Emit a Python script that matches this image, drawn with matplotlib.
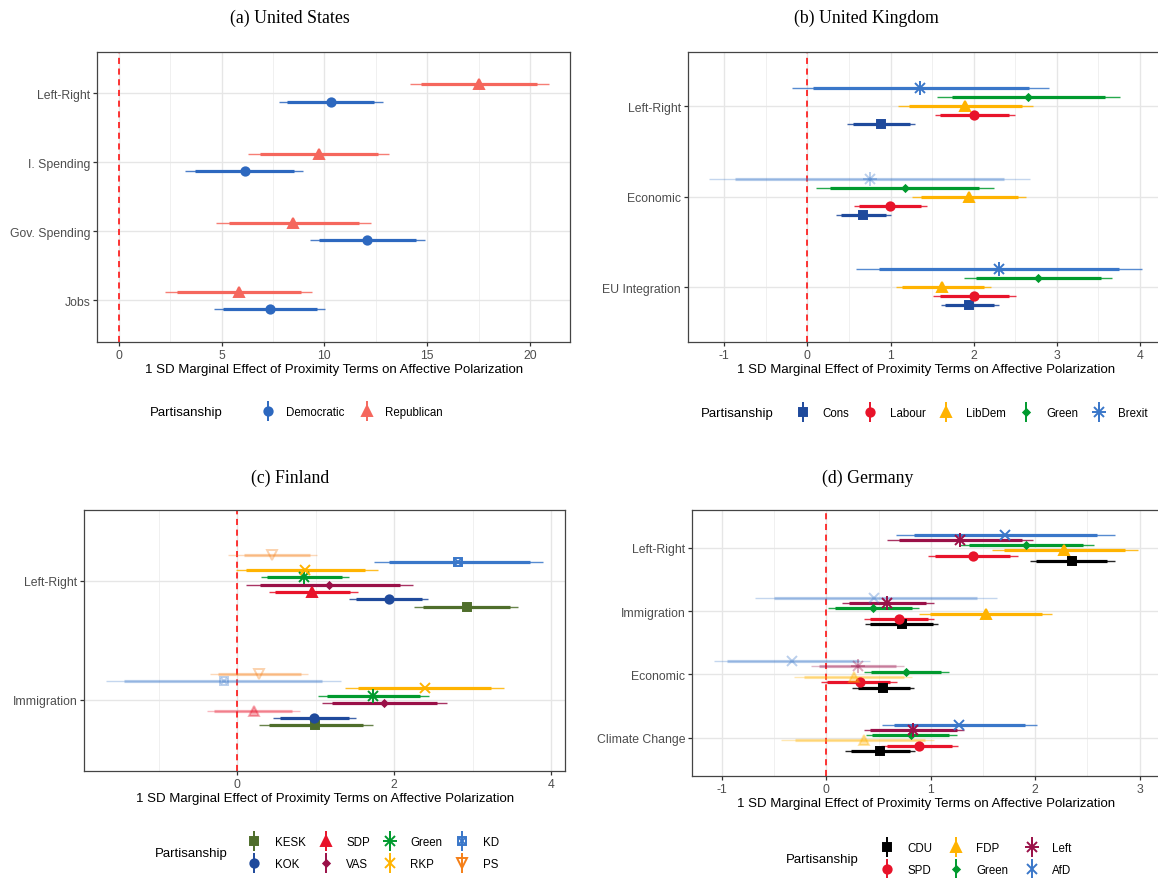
import matplotlib
matplotlib.use("Agg")
import matplotlib.pyplot as plt
from matplotlib.lines import Line2D
from matplotlib.legend_handler import HandlerTuple
from matplotlib.ticker import MultipleLocator

plt.rcParams['font.family'] = ['Liberation Sans', 'DejaVu Sans']
plt.rcParams['axes.unicode_minus'] = False

W, H = 1158, 879

# ---- (a) United States ----
us_cats = ["Left-Right", "I. Spending", "Gov. Spending", "Jobs"]
us_parties = ["Democratic", "Republican"]
us_est = [[10.31, 6.12, 12.07, 7.37], [17.52, 9.72, 8.48, 5.85]]
us_lo95 = [[7.80, 3.23, 9.29, 4.65], [14.17, 6.28, 4.74, 2.26]]
us_hi95 = [[12.84, 8.97, 14.91, 10.04], [20.90, 13.15, 12.25, 9.42]]
us_lo90 = [[8.16, 3.71, 9.72, 5.08], [14.71, 6.87, 5.35, 2.83]]
us_hi90 = [[12.43, 8.52, 14.44, 9.63], [20.32, 12.59, 11.66, 8.84]]
us_sig = [[True] * 4, [True] * 4]

# ---- (b) United Kingdom ----
uk_cats = ["Left-Right", "Economic", "EU Integration"]
uk_parties = ["Cons", "Labour", "LibDem", "Green", "Brexit"]
uk_est = [[0.88, 0.67, 1.95], [2.01, 0.99, 2.01], [1.90, 1.94, 1.62],
          [2.66, 1.17, 2.78], [1.36, 0.75, 2.30]]
uk_lo95 = [[0.48, 0.34, 1.61], [1.53, 0.56, 1.51], [1.09, 1.26, 1.06],
           [1.56, 0.10, 1.89], [-0.18, -1.18, 0.59]]
uk_hi95 = [[1.30, 1.01, 2.31], [2.50, 1.44, 2.51], [2.71, 2.63, 2.21],
           [3.76, 2.24, 3.67], [2.91, 2.68, 4.03]]
uk_lo90 = [[0.55, 0.40, 1.66], [1.60, 0.62, 1.60], [1.22, 1.37, 1.14],
           [1.74, 0.27, 2.03], [0.07, -0.87, 0.86]]
uk_hi90 = [[1.23, 0.95, 2.25], [2.42, 1.37, 2.43], [2.58, 2.53, 2.12],
           [3.58, 2.06, 3.53], [2.67, 2.37, 3.75]]
uk_sig = [[True] * 3, [True] * 3, [True] * 3, [True] * 3, [True, False, True]]

# ---- (c) Finland ----
fi_cats = ["Left-Right", "Immigration"]
fi_parties = ["KESK", "KOK", "SDP", "VAS", "Green", "RKP", "KD", "PS"]
fi_est = [[2.93, 0.99], [1.93, 0.98], [0.96, 0.21], [1.17, 1.87],
          [0.85, 1.73], [0.87, 2.40], [2.82, -0.17], [0.45, 0.28]]
fi_lo95 = [[2.26, 0.28], [1.43, 0.46], [0.40, -0.38], [0.11, 1.08],
           [0.30, 1.03], [-0.02, 1.38], [1.75, -1.67], [-0.12, -0.34]]
fi_hi95 = [[3.58, 1.73], [2.43, 1.52], [1.54, 0.80], [2.24, 2.68],
           [1.43, 2.44], [1.79, 3.40], [3.90, 1.32], [1.02, 0.90]]
fi_lo90 = [[2.37, 0.40], [1.51, 0.54], [0.48, -0.29], [0.29, 1.21],
           [0.38, 1.15], [0.11, 1.54], [1.93, -1.44], [0.09, -0.24]]
fi_hi90 = [[3.48, 1.61], [2.35, 1.43], [1.44, 0.70], [2.07, 2.55],
           [1.34, 2.33], [1.63, 3.24], [3.73, 1.08], [0.93, 0.81]]
fi_sig = [[True, True], [True, True], [True, False], [True, True],
          [True, True], [True, True], [True, False], [False, False]]

# ---- (d) Germany ----
de_cats = ["Left-Right", "Immigration", "Economic", "Climate Change"]
de_parties = ["CDU", "SPD", "FDP", "Green", "Left", "AfD"]
de_est = [[2.35, 0.72, 0.54, 0.51], [1.40, 0.70, 0.32, 0.89],
          [2.28, 1.53, 0.26, 0.36], [1.91, 0.45, 0.76, 0.81],
          [1.28, 0.58, 0.30, 0.83], [1.71, 0.46, -0.33, 1.27]]
de_lo95 = [[1.95, 0.37, 0.25, 0.18], [0.97, 0.36, -0.05, 0.52],
           [1.59, 0.89, -0.31, -0.43], [1.28, 0.02, 0.36, 0.38],
           [0.58, 0.15, -0.15, 0.36], [0.67, -0.68, -1.08, 0.53]]
de_hi95 = [[2.76, 1.07, 0.84, 0.85], [1.83, 1.03, 0.68, 1.26],
           [2.98, 2.16, 0.82, 1.03], [2.56, 0.89, 1.17, 1.25],
           [1.98, 1.03, 0.74, 1.32], [2.76, 1.63, 0.42, 2.02]]
de_lo90 = [[2.01, 0.42, 0.30, 0.24], [1.04, 0.42, 0.01, 0.58],
           [1.70, 0.99, -0.21, -0.30], [1.37, 0.08, 0.43, 0.44],
           [0.70, 0.22, -0.07, 0.42], [0.84, -0.50, -0.95, 0.65]]
de_hi90 = [[2.69, 1.02, 0.80, 0.80], [1.76, 0.97, 0.61, 1.20],
           [2.86, 2.06, 0.74, 0.94], [2.46, 0.82, 1.10, 1.17],
           [1.87, 0.95, 0.67, 1.25], [2.59, 1.44, 0.31, 1.90]]
de_sig = [[True] * 4, [True] * 4, [True, True, False, False], [True] * 4,
          [True, True, False, True], [True, False, False, True]]

# colours and marker shapes per party
us_colors = ["#2D68BF", "#F5675D"]
us_shapes = ["circle", "triangle"]
uk_colors = ["#1F4A9C", "#E8132A", "#FFB300", "#009A2E", "#3A77C9"]
uk_shapes = ["square", "circle", "triangle", "diamond", "asterisk"]
fi_colors = ["#4F6E2B", "#1F4A9C", "#E8132A", "#9A1048", "#009A2E",
             "#FFB300", "#3A77C9", "#F57F17"]
fi_shapes = ["square", "circle", "triangle", "diamond", "asterisk",
             "cross", "boxx", "vopen"]
de_colors = ["#000000", "#E8132A", "#FFB300", "#009A2E", "#9A1048", "#3A77C9"]
de_shapes = ["square", "circle", "triangle", "diamond", "asterisk", "cross"]

SHAPES = {
    "circle": [("o", True, 1.0)],
    "triangle": [("^", True, 1.1)],
    "square": [("s", True, 1.0)],
    "diamond": [("D", True, 0.55)],
    "asterisk": [("+", True, 1.6), ("x", True, 1.25)],
    "cross": [("x", True, 1.2)],
    "boxx": [("s", False, 1.05), ("x", True, 0.8)],
    "vopen": [("v", False, 1.3)],
}
MS = 6.0


def shape_artists(shape, color, alpha=1.0):
    out = []
    for m, filled, scale in SHAPES[shape]:
        out.append(dict(marker=m, ms=MS * scale, color=color,
                        mfc=color if filled else "none", mec=color,
                        mew=1.4, alpha=alpha, ls=""))
    return out


def add_axes_px(fig, l, r, t, b):
    return fig.add_axes([l / W, 1 - b / H, (r - l) / W, (b - t) / H])


def draw_panel(ax, cats, parties, colors, shapes, est, lo95, hi95, lo90, hi90,
               sig, major, minor):
    ncat = len(cats)
    npar = len(parties)
    for j in range(npar):
        off = -0.25 + (j + 0.5) * 0.5 / npar
        for i in range(ncat):
            y = ncat - i + off
            a = 1.0 if sig[j][i] else 0.35
            ax.plot([lo95[j][i], hi95[j][i]], [y, y], color=colors[j],
                    lw=1.0, alpha=a * 0.85, solid_capstyle="butt", zorder=3)
            ax.plot([lo90[j][i], hi90[j][i]], [y, y], color=colors[j],
                    lw=2.3, alpha=a, solid_capstyle="butt", zorder=4)
            for kw in shape_artists(shapes[j], colors[j], a):
                ax.plot([est[j][i]], [y], zorder=5, **kw)
    lo = min(0, min(min(r) for r in lo95))
    hi = max(0, max(max(r) for r in hi95))
    pad = 0.05 * (hi - lo)
    ax.set_xlim(lo - pad, hi + pad)
    ax.set_ylim(0.4, ncat + 0.6)
    ax.axvline(0, color="#FF0000", ls=(0, (4, 3)), lw=1.1, zorder=2)
    ax.set_yticks(range(ncat, 0, -1))
    ax.set_yticklabels(cats)
    ax.xaxis.set_major_locator(MultipleLocator(major))
    ax.xaxis.set_minor_locator(MultipleLocator(minor))
    ax.grid(True, which="major", color="#E6E6E6", lw=1.0, zorder=0)
    ax.grid(True, which="minor", axis="x", color="#EEEEEE", lw=0.6, zorder=0)
    ax.set_axisbelow(True)
    for s in ax.spines.values():
        s.set_color("#444444")
        s.set_linewidth(0.9)
    ax.tick_params(which="major", length=3, width=0.9, color="#333333",
                   labelcolor="#4D4D4D", labelsize=8.8, pad=2)
    ax.tick_params(which="minor", length=0)
    ax.set_xlabel("1 SD Marginal Effect of Proximity Terms on Affective Polarization",
                  fontsize=9.5, labelpad=2)


def add_legend(fig, parties, colors, shapes, title_x, y, leg_x, ncol,
               textpad, colspace):
    handles = []
    for p, c, s in zip(parties, colors, shapes):
        bar = Line2D([], [], color=c, marker="|", ms=15, mew=1.4, ls="")
        pts = [Line2D([], [], **kw) for kw in shape_artists(s, c)]
        handles.append(tuple([bar] + pts))
    fig.text(title_x / W, 1 - y / H, "Partisanship", fontsize=9.5,
             ha="left", va="center")
    fig.legend(handles, parties, loc="center left",
               bbox_to_anchor=(leg_x / W, 1 - y / H), ncol=ncol,
               frameon=False, fontsize=8.3, borderpad=0, borderaxespad=0,
               handlelength=1.2, handletextpad=textpad, columnspacing=colspace,
               labelspacing=0.8,
               handler_map={tuple: HandlerTuple(ndivide=1, pad=0)})


fig = plt.figure(figsize=(W / 100, H / 100), dpi=100)

ax_a = add_axes_px(fig, 97.3, 570, 52.7, 342.7)
draw_panel(ax_a, us_cats, us_parties, us_colors, us_shapes, us_est, us_lo95,
           us_hi95, us_lo90, us_hi90, us_sig, 5, 2.5)
ax_b = add_axes_px(fig, 687.7, 1164, 52.7, 342.7)
draw_panel(ax_b, uk_cats, uk_parties, uk_colors, uk_shapes, uk_est, uk_lo95,
           uk_hi95, uk_lo90, uk_hi90, uk_sig, 1, 0.5)
ax_c = add_axes_px(fig, 84.3, 565, 510.7, 771.7)
draw_panel(ax_c, fi_cats, fi_parties, fi_colors, fi_shapes, fi_est, fi_lo95,
           fi_hi95, fi_lo90, fi_hi90, fi_sig, 2, 1)
ax_d = add_axes_px(fig, 692.4, 1158.8, 510.7, 776.7)
draw_panel(ax_d, de_cats, de_parties, de_colors, de_shapes, de_est, de_lo95,
           de_hi95, de_lo90, de_hi90, de_sig, 1, 0.5)

serif = ["Liberation Serif", "DejaVu Serif"]
for txt, x, y in [("(a) United States", 290, 18), ("(b) United Kingdom", 866, 18),
                  ("(c) Finland", 290, 478), ("(d) Germany", 868, 478)]:
    fig.text(x / W, 1 - y / H, txt, fontsize=12.8, family=serif,
             ha="center", va="center")

add_legend(fig, us_parties, us_colors, us_shapes, 150, 413, 261, 2, 0.95, 1.4)
add_legend(fig, uk_parties, uk_colors, uk_shapes, 701, 414, 796, 5, 1.1, 1.2)
add_legend(fig, fi_parties, fi_colors, fi_shapes, 155, 854, 247.5, 4, 1.2, 1.1)
add_legend(fig, de_parties, de_colors, de_shapes, 786, 860, 880, 3, 1.2, 1.4)

fig.savefig("out.png", dpi=100)
